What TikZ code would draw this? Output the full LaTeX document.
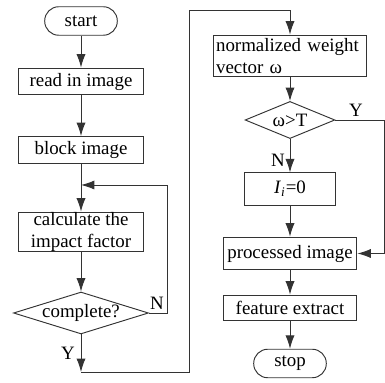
\documentclass[tikz,border=0pt]{standalone}
\usepackage{fontspec}
\setmainfont{Liberation Serif}
\usetikzlibrary{shapes.geometric,arrows.meta}
\begin{document}
\begin{tikzpicture}[x=0.0186cm, y=-0.0186cm, line width=0.5pt, draw=black!80,
	every node/.style={font=\fontsize{10}{12}\selectfont},
	box/.style={draw, rectangle, inner sep=0pt, minimum width=2.31cm, minimum height=0.5cm},
	term/.style={draw, rectangle, rounded corners=0.26cm, inner sep=0pt, minimum width=1.35cm, minimum height=0.53cm},
	test/.style={draw, diamond, inner sep=0pt},
	flow/.style={-{Latex[length=2.5mm,width=1.7mm]}}]
	\useasboundingbox (0,0) rectangle (385,383);

	\node[term] (start) at (81,21) {start};
	\node[box] (read) at (81,81.5) {read in image};
	\node[box] (block) at (81,150) {block image};
	\node[box, minimum height=0.74cm, align=center] (calc) at (81,232) {calculate the\\impact factor};
	\node[test, aspect=3.2, minimum width=2.51cm, minimum height=0.78cm] (done) at (81,313) {complete?};

	\node[box, align=left, text width=2.75cm, inner xsep=0.055cm, minimum height=0.78cm] (norm) at (290,56) {normalized weight\\vector ω};
	\node[test, aspect=2.4, minimum width=1.67cm, minimum height=0.69cm] (thr) at (290,120) {ω>T};
	\node[box, minimum width=1.69cm, minimum height=0.6cm] (zero) at (290,189) {\textit{I}\textsubscript{\textit{i}}=0};
	\node[box, minimum width=2.49cm, minimum height=0.61cm] (proc) at (290,253.5) {processed image};
	\node[box, minimum width=2.49cm, minimum height=0.48cm] (feat) at (290,308) {feature extract};
	\node[term] (stop) at (290,363.5) {stop};

	\coordinate (merge) at (81,185);
	\coordinate (loop) at (167,185);
	\coordinate (low) at (81,372);
	\coordinate (up) at (189,10);
	\coordinate (side) at (384,120);

	\draw[flow] (start) -- (read);
	\draw[flow] (read) -- (block);
	\draw (block) -- (merge);
	\draw[flow] (merge) -- (calc);
	\draw[flow] (calc) -- (done);
	\draw[flow] (done.east) -| (loop) -- (merge);
	\draw[flow] (done) -- (low);
	\draw[flow] (low) -| (up) -| (norm);

	\draw[flow] (norm) -- (thr);
	\draw[flow] (thr) -- (zero);
	\draw[flow] (zero) -- (proc);
	\draw[flow] (proc) -- (feat);
	\draw[flow] (feat) -- (stop);
	\draw[flow] (thr.east) -- (side) |- (proc.east);

	\node (yes1) at (68,353) {Y};
	\node (no1) at (157,303) {N};
	\node (yes2) at (356,110) {Y};
	\node (no2) at (278,160) {N};
\end{tikzpicture}
\end{document}
